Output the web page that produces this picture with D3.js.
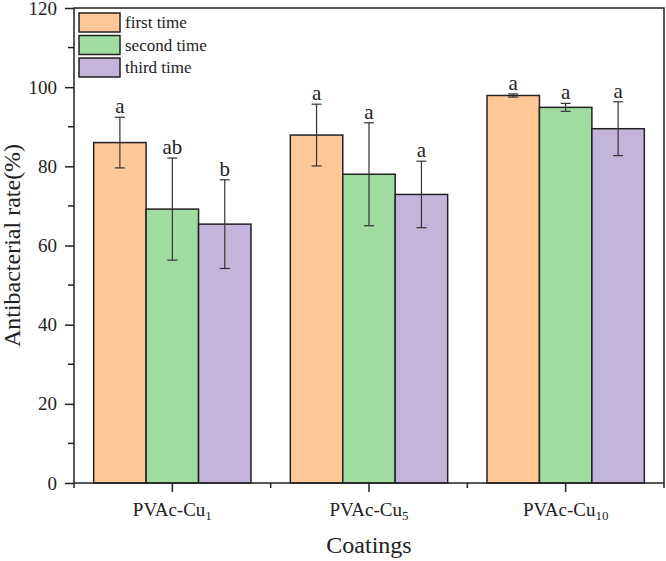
<!DOCTYPE html>
<html>
<head>
<meta charset="utf-8">
<script src="https://cdn.jsdelivr.net/npm/d3@7"></script>
<style>
html,body{margin:0;padding:0;background:#fff;}
svg{display:block;font-family:"Liberation Serif","Times New Roman",serif;}
svg text{font-family:"Liberation Serif","Times New Roman",serif;}
</style>
</head>
<body>
<svg id="chart" width="666" height="561"></svg>
<script>
// ---- data ----
const catBase = ["PVAc-Cu", "PVAc-Cu", "PVAc-Cu"];
const catSub = ["1", "5", "10"];
const seriesNames = ["first time", "second time", "third time"];
const firstTime = [86.0, 87.9, 97.9];
const secondTime = [69.2, 78.0, 94.9];
const thirdTime = [65.4, 72.9, 89.5];
const firstErr = [6.4, 7.8, 0.4];
const secondErr = [12.9, 13.0, 1.0];
const thirdErr = [11.2, 8.4, 6.8];
const firstSig = ["a", "a", "a"];
const secondSig = ["ab", "a", "a"];
const thirdSig = ["b", "a", "a"];
const yTicks = [0, 20, 40, 60, 80, 100, 120];
const colors = ["#FFC896", "#A0DCA0", "#C4B4DC"];

const values = [firstTime, secondTime, thirdTime];
const errs = [firstErr, secondErr, thirdErr];
const sigs = [firstSig, secondSig, thirdSig];

// ---- layout ----
const svg = d3.select("#chart");
const L = 74, R = 664, T = 8, B = 483;
const FONT = "Liberation Serif";

const x0 = d3.scaleBand().domain(d3.range(catSub.length)).range([L, R]).paddingInner(0.2).paddingOuter(0.1);
const x1 = d3.scaleBand().domain(d3.range(seriesNames.length)).range([0, x0.bandwidth()]);
const y = d3.scaleLinear().domain([0, 120]).range([B, T]);

const stroke = "#222";

// bars
const groups = svg.append("g").selectAll("g").data(d3.range(catSub.length)).join("g")
  .attr("transform", i => `translate(${x0(i)},0)`);

groups.each(function(ci) {
  const g = d3.select(this);
  seriesNames.forEach((s, si) => {
    const v = values[si][ci];
    g.append("rect")
      .attr("x", x1(si))
      .attr("y", y(v))
      .attr("width", x1.bandwidth())
      .attr("height", y(0) - y(v))
      .attr("fill", colors[si])
      .attr("stroke", stroke)
      .attr("stroke-width", 1.5);
  });
});

// error bars + letters
groups.each(function(ci) {
  const g = d3.select(this);
  seriesNames.forEach((s, si) => {
    const v = values[si][ci], e = errs[si][ci];
    const cx = x1(si) + x1.bandwidth() / 2;
    const cap = 5;
    g.append("line").attr("x1", cx).attr("x2", cx).attr("y1", y(v + e)).attr("y2", y(v - e))
      .attr("stroke", "#333").attr("stroke-width", 1.2);
    [v + e, v - e].forEach(t => {
      g.append("line").attr("x1", cx - cap).attr("x2", cx + cap).attr("y1", y(t)).attr("y2", y(t))
        .attr("stroke", "#333").attr("stroke-width", 1.2);
    });
    g.append("text").attr("x", cx).attr("y", y(v + e) - 4)
      .attr("text-anchor", "middle").attr("font-size", 21).attr("fill", "#222")
      .attr("font-family", FONT)
      .text(sigs[si][ci]);
  });
});

// y axis
const yAxis = svg.append("g").attr("transform", `translate(${L},0)`);
yAxis.call(d3.axisLeft(y).tickValues(yTicks).tickSize(9).tickPadding(8).tickFormat(d3.format("d")));
yAxis.attr("font-family", FONT);
yAxis.selectAll("text").attr("font-size", 19).attr("fill", "#222").attr("font-family", FONT);
yAxis.select(".domain").remove();
yAxis.selectAll(".tick line").attr("stroke", stroke).attr("stroke-width", 1.5);
// minor y ticks
const yMinor = d3.range(10, 120, 20);
svg.append("g").selectAll("line").data(yMinor).join("line")
  .attr("x1", L - 6).attr("x2", L).attr("y1", d => y(d)).attr("y2", d => y(d))
  .attr("stroke", stroke).attr("stroke-width", 1.5);

// x axis
const xAxis = svg.append("g").attr("transform", `translate(0,${B})`);
xAxis.call(d3.axisBottom(x0).tickSize(9).tickPadding(10).tickFormat(""));
xAxis.attr("font-family", FONT);
xAxis.select(".domain").remove();
xAxis.selectAll(".tick line").attr("stroke", stroke).attr("stroke-width", 1.5);
xAxis.selectAll(".tick").each(function(i) {
  const t = d3.select(this).append("text").attr("y", 33).attr("text-anchor", "middle")
    .attr("font-size", 19).attr("fill", "#222").attr("font-family", FONT);
  t.append("tspan").text(catBase[i]);
  t.append("tspan").attr("font-size", 13).attr("dy", 4).text(catSub[i]);
});
// minor x ticks at band boundaries
const bounds = [L].concat(d3.range(1, catSub.length).map(i => x0(i) - x0.step() * x0.paddingInner() / 2)).concat([R]);
svg.append("g").selectAll("line").data(bounds).join("line")
  .attr("x1", d => d).attr("x2", d => d).attr("y1", B).attr("y2", B + 5)
  .attr("stroke", stroke).attr("stroke-width", 1.5);

// frame
svg.append("rect").attr("x", L).attr("y", T).attr("width", R - L).attr("height", B - T)
  .attr("fill", "none").attr("stroke", stroke).attr("stroke-width", 1.5);

// axis titles
svg.append("text").attr("x", (L + R) / 2).attr("y", 553).attr("text-anchor", "middle")
  .attr("font-size", 24).attr("fill", "#222").attr("font-family", FONT).text("Coatings");
svg.append("text").attr("transform", `translate(20,${(T + B) / 2}) rotate(-90)`)
  .attr("text-anchor", "middle").attr("font-size", 24).attr("fill", "#222").attr("font-family", FONT)
  .text("Antibacterial rate(%)");

// legend
const leg = svg.append("g").attr("transform", "translate(79,13)");
seriesNames.forEach((s, i) => {
  const gy = i * 22.5;
  leg.append("rect").attr("x", 0).attr("y", gy).attr("width", 41).attr("height", 19)
    .attr("fill", colors[i]).attr("stroke", stroke).attr("stroke-width", 1.5);
  leg.append("text").attr("x", 46).attr("y", gy + 15).attr("font-size", 17).attr("fill", "#222")
    .attr("font-family", FONT).text(s);
});
</script>
</body>
</html>
